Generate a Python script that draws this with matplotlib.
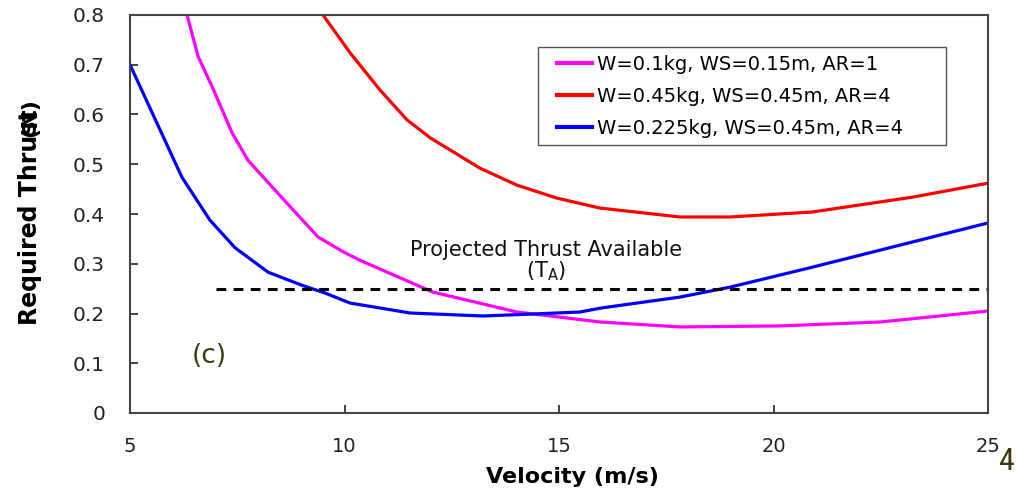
import numpy as np
import matplotlib
matplotlib.use("Agg")
import matplotlib.pyplot as plt
from matplotlib.patches import Rectangle

plt.rcParams['font.family'] = ['DejaVu Sans']
plt.rcParams['mathtext.default'] = 'regular'

# required thrust curves (velocity in m/s, thrust in N)
v_small = [6.33, 6.59, 6.92, 7.38, 7.75, 8.38, 9.38, 9.97, 10.36, 12.06, 14.02,
           15.95, 17.82, 20.15, 22.5, 25.0]
t_small = [0.800, 0.716, 0.655, 0.563, 0.508, 0.448, 0.354, 0.324, 0.307, 0.243,
           0.203, 0.183, 0.173, 0.175, 0.183, 0.205]

v_heavy = [9.5, 10.13, 10.83, 11.46, 12.0, 13.16, 14.02, 14.95, 15.95, 17.82,
           18.99, 20.9, 23.25, 25.0]
t_heavy = [0.800, 0.724, 0.649, 0.589, 0.553, 0.492, 0.458, 0.432, 0.412, 0.394,
           0.394, 0.404, 0.434, 0.462]

v_light = [5.0, 5.6, 6.21, 6.86, 7.45, 8.22, 9.0, 9.55, 10.13, 11.53, 13.23,
           14.4, 15.49, 15.98, 17.82, 18.99, 20.9, 23.25, 25.0]
t_light = [0.700, 0.588, 0.474, 0.388, 0.332, 0.283, 0.257, 0.241, 0.221, 0.201,
           0.195, 0.199, 0.203, 0.211, 0.233, 0.253, 0.293, 0.344, 0.382]

labels = ['W=0.1kg, WS=0.15m, AR=1',
          'W=0.45kg, WS=0.45m, AR=4',
          'W=0.225kg, WS=0.45m, AR=4']

# projected thrust available
ta_value = 0.25
ta_range = [7.0, 25.0]

W, H = 1018, 497
fig = plt.figure(figsize=(W / 100, H / 100), dpi=100)
ax = fig.add_axes([130 / W, 1 - 413 / H, 858 / W, 398 / H])

ax.plot(v_small, t_small, color='#ff00ff', lw=2.3, label=labels[0])
ax.plot(v_heavy, t_heavy, color='#ff0000', lw=2.3, label=labels[1])
ax.plot(v_light, t_light, color='#0000ff', lw=2.3, label=labels[2])
ax.plot(ta_range, [ta_value, ta_value], color='black', lw=2.2, dashes=(3.2, 2.4))

ax.set_xlim(5, 25)
ax.set_ylim(0, 0.8)
ax.set_xticks([5, 10, 15, 20, 25])
ax.set_yticks(np.arange(0, 0.81, 0.1))
ax.set_yticklabels(['0'] + ['%.1f' % y for y in np.arange(0.1, 0.81, 0.1)])

for s in ax.spines.values():
    s.set_color('#444444')
    s.set_linewidth(1.5)

ax.tick_params(axis='y', direction='in', length=6, width=1.2, pad=18,
               labelsize=14.5, colors='#222222')
ax.tick_params(axis='x', direction='in', length=6, width=1.2, pad=17,
               labelsize=14, colors='#222222')

# legend without its own frame; the box is drawn separately
leg = ax.legend(loc='upper left', bbox_to_anchor=(557 / W, 1 - 55 / H),
                bbox_transform=fig.transFigure, borderaxespad=0, borderpad=0,
                fontsize=14, frameon=False, handlelength=1.8,
                handletextpad=0.25, labelspacing=0.66)
for line in leg.get_lines():
    line.set_linewidth(3)
fig.patches.append(Rectangle((538 / W, 1 - 145 / H), 408 / W, 98 / H,
                             transform=fig.transFigure, fill=False,
                             edgecolor='#555555', lw=1.0))

ax.text(14.7, 0.3276, 'Projected Thrust Available', ha='center', va='center',
        fontsize=15, color='#111111')
ax.text(14.7, 0.285, '(T$_A$)', ha='center', va='center', fontsize=15,
        color='#111111')
ax.text(6.85, 0.115, '(c)', ha='center', va='center', fontsize=19,
        color='#3a3a0c')

fig.text(572 / W, 1 - 477 / H, 'Velocity (m/s)', ha='center', va='center',
         fontsize=16, fontweight='bold')
fig.text(30 / W, 1 - 325 / H, 'Required Thrust', rotation=90, ha='center',
         va='bottom', fontsize=17, fontweight='bold')
fig.text(30 / W, 1 - 98 / H, '(N)', rotation=90, ha='center', va='top',
         fontsize=16, fontweight='bold')
fig.text(1006 / W, 1 - 462 / H, '4', ha='center', va='center', fontsize=23,
         color='#3a3a0c', family=['Roboto Condensed', 'DejaVu Sans'])

fig.savefig('out.png', dpi=100)
